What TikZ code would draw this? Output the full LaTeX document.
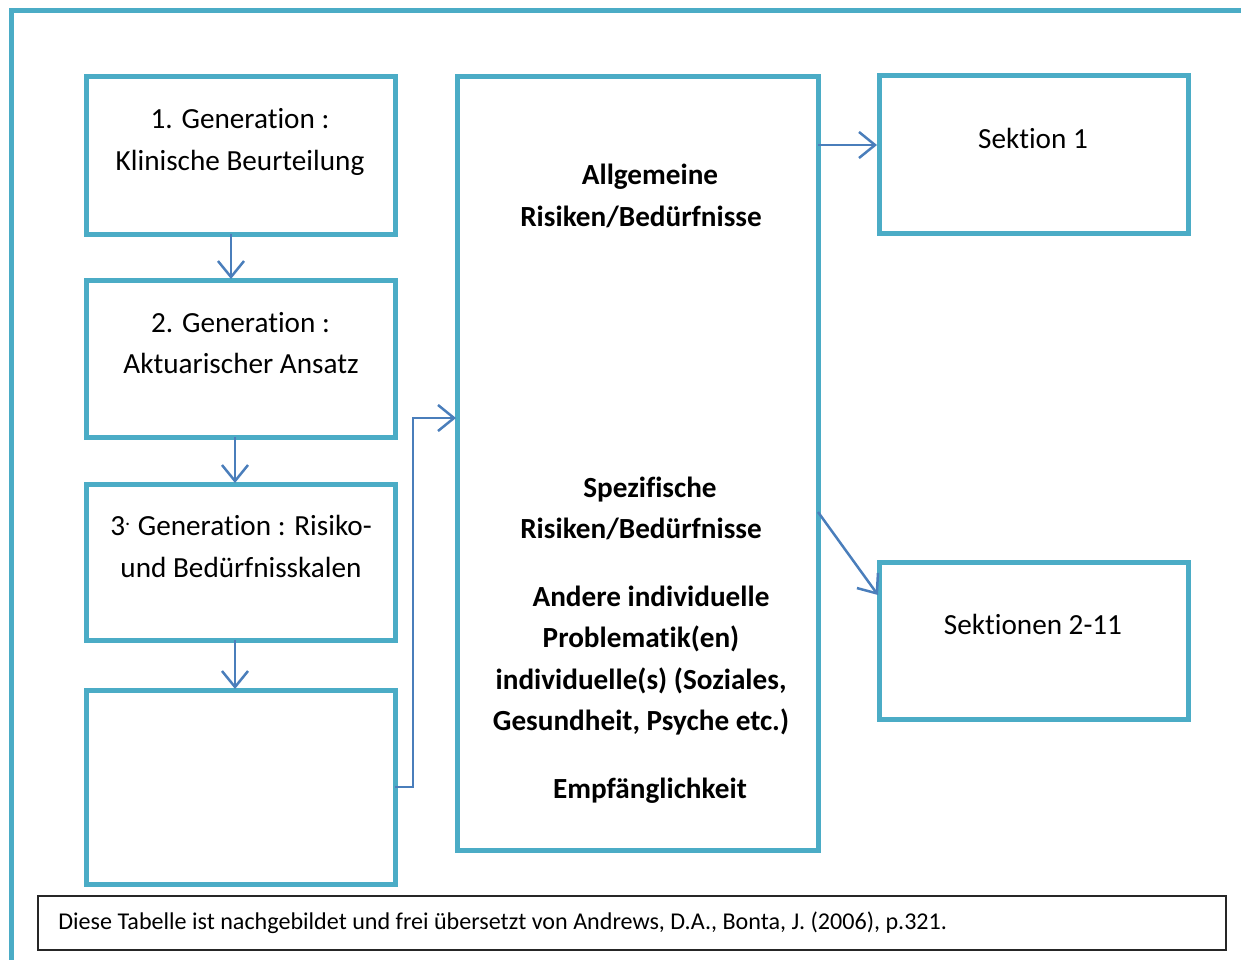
\documentclass[tikz,border=0pt]{standalone}
\usepackage{fontspec}
\setmainfont[Ligatures=NoCommon]{Carlito}
\usetikzlibrary{arrows.meta,calc}
\definecolor{aqua}{HTML}{4BACC6}
\definecolor{arrblue}{HTML}{4A7EBB}
\tikzset{
  box/.style={draw=aqua, line width=2.5pt, rectangle, inner sep=0pt, outer sep=0pt},
  arr/.style={draw=arrblue, line width=1.25pt, -{Straight Barb[length=8pt,width=13pt,line width=1.25pt]}},
  txt/.style={anchor=base, inner sep=0pt, font=\fontsize{14.6}{20.5}\selectfont},
  btxt/.style={txt, font=\fontsize{14.6}{20.5}\selectfont\bfseries},
  captext/.style={anchor=base west, inner sep=0pt, font=\fontsize{12.05}{14}\selectfont}
}
\begin{document}
\begin{tikzpicture}[x=0.5pt,y=-0.5pt]
\useasboundingbox (0,0) rectangle (1241,960);
% outer frame
\draw[aqua, line width=2.5pt] (1241,10.7) -- (11.5,10.7) -- (11.5,960);
% boxes
\node[box, minimum width=309*0.5pt, minimum height=158*0.5pt] (b1) at (240.5,155) {};
\node[box, minimum width=309*0.5pt, minimum height=157*0.5pt] (b2) at (240.5,358.5) {};
\node[box, minimum width=309*0.5pt, minimum height=156*0.5pt] (b3) at (240.5,562) {};
\node[box, minimum width=309*0.5pt, minimum height=194*0.5pt] (b4) at (240.5,787) {};
\node[box, minimum width=361*0.5pt, minimum height=774*0.5pt] (big) at (637.5,463) {};
\node[box, minimum width=309*0.5pt, minimum height=158*0.5pt] (s1) at (1033.5,154) {};
\node[box, minimum width=309*0.5pt, minimum height=157*0.5pt] (s2) at (1033.5,640.5) {};
\node[draw=black!85, line width=1pt, rectangle, inner sep=0pt, outer sep=0pt,
      minimum width=1188*0.5pt, minimum height=54*0.5pt] (capbox) at (632,923) {};
% texts left
\node[txt] (t1a) at (240,128.5) {1. Generation :};
\node[txt] (t1b) at (240,170) {Klinische Beurteilung};
\node[txt] (t2a) at (240.5,332.5) {2. Generation :};
\node[txt] (t2b) at (241,373.5) {Aktuarischer Ansatz};
\node[txt] (t3a) at (241,535.5) {3\textsuperscript{.} Generation : Risiko-};
\node[txt] (t3b) at (241,577) {und Bedürfnisskalen};
% big box texts
\node[btxt] (g1) at (650,184.5) {Allgemeine};
\node[btxt] (g2) at (641,226) {Risiken/Bedürfnisse};
\node[btxt] (g3) at (650,497.5) {Spezifische};
\node[btxt] (g4) at (641,538.5) {Risiken/Bedürfnisse};
\node[btxt] (g5) at (651,606.5) {Andere individuelle};
\node[btxt] (g6) at (641,647.5) {Problematik(en)};
\node[btxt] (g7) at (641,689.5) {individuelle(s) (Soziales,};
\node[btxt] (g8) at (641,730.5) {Gesundheit, Psyche etc.)};
\node[btxt] (g9) at (650,798.5) {Empfänglichkeit};
% right texts
\node[txt] (ts1) at (1033,148.5) {Sektion 1};
\node[txt] (ts2) at (1033,634.5) {Sektionen 2-11};
% caption
\node[captext] (captxt) at (58,929) {Diese Tabelle ist nachgebildet und frei übersetzt von Andrews, D.A., Bonta, J. (2006), p.321.};
% arrows
\draw[arr] ($(b1.south)+(-9.5,0)$) -- ($(b2.north)+(-9.5,-1)$);
\draw[arr] ($(b2.south)+(-5.5,0)$) -- ($(b3.north)+(-5.5,-1)$);
\draw[arr] ($(b3.south)+(-5.5,0)$) -- ($(b4.north)+(-5.5,-1)$);
\draw[arr] (b4.east) -- ++(18,0) |- ($(big.west)+(-1,-45)$);
\draw[arr] ($(big.east)+(0,-318)$) -- ($(s1.west)+(-2,-9)$);
\draw[arr] ($(big.east)+(0,49)$) -- ($(s2.west)+(-1,-45.5)$);
\end{tikzpicture}
\end{document}
